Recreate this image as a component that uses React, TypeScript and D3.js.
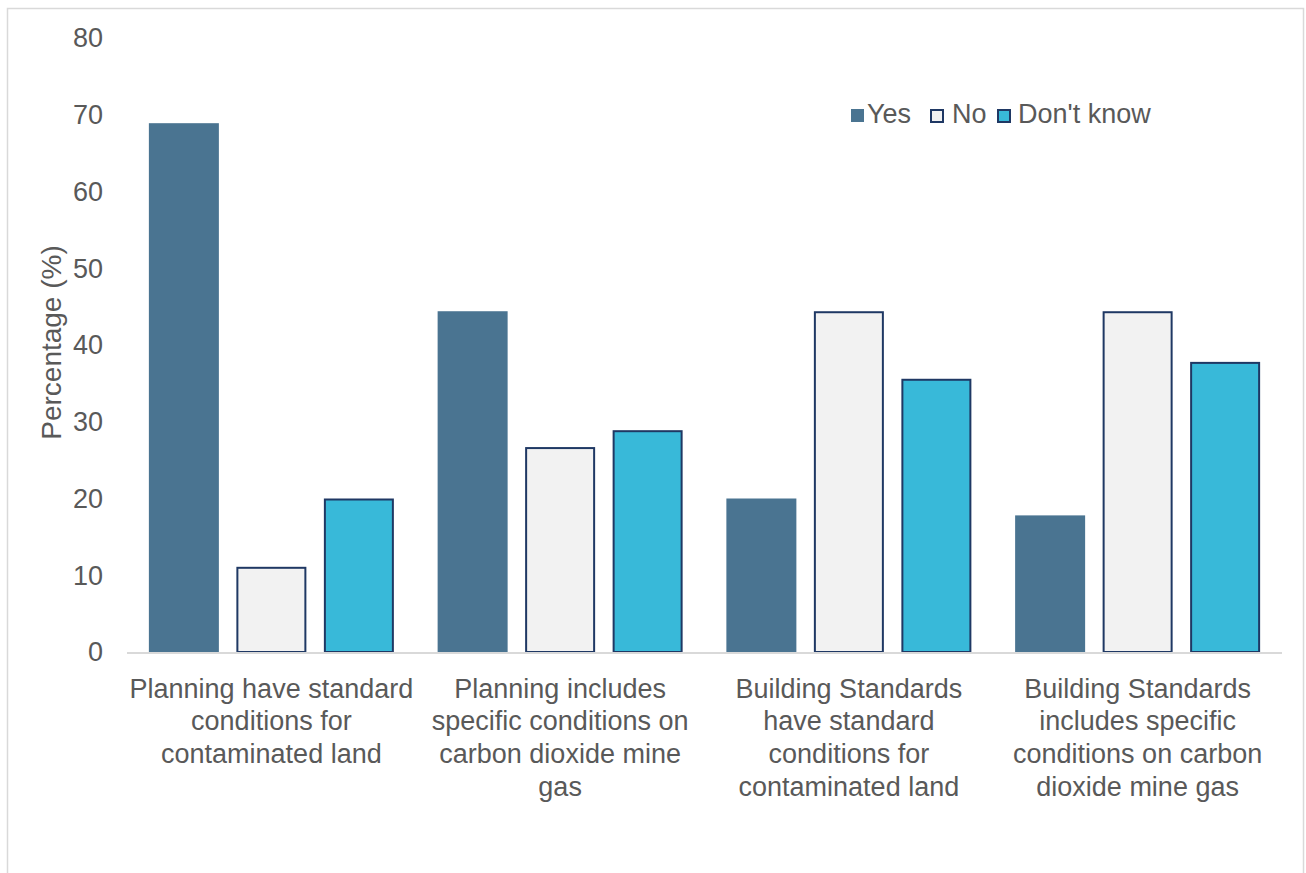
import React from "react";
import * as d3 from "d3";

const categories = [
  "Planning have standard conditions for contaminated land",
  "Planning includes specific conditions on carbon dioxide mine gas",
  "Building Standards have standard conditions for contaminated land",
  "Building Standards includes specific conditions on carbon dioxide mine gas",
];
const categoryLines = [
  ["Planning have standard", "conditions for", "contaminated land"],
  ["Planning includes", "specific conditions on", "carbon dioxide mine", "gas"],
  ["Building Standards", "have standard", "conditions for", "contaminated land"],
  ["Building Standards", "includes specific", "conditions on carbon", "dioxide mine gas"],
];
const seriesNames = ["Yes", "No", "Don't know"];
const yesValues = [68.9, 44.4, 20.0, 17.8];
const noValues = [11.1, 26.7, 44.4, 44.4];
const dontKnowValues = [20.0, 28.9, 35.6, 37.8];
const yTicks = [0, 10, 20, 30, 40, 50, 60, 70, 80];

const fills = ["#4A7491", "#F2F2F2", "#38B9D9"];
const strokes = ["none", "#1F3864", "#1F3864"];
const textColor = "#595959";
const font = "'Liberation Sans', Arial, sans-serif";

export default function App() {
  const W = 1306, H = 873;
  const x0 = 127, x1 = 1282, yTop = 38, yBase = 652;
  const series = [yesValues, noValues, dontKnowValues];

  const y = d3.scaleLinear().domain([0, 80]).range([yBase, yTop]);
  const xg = d3.scaleBand().domain(categories).range([x0, x1]).paddingInner(0).paddingOuter(0);
  const groupW = xg.bandwidth();
  // Excel-like: gap width ~62.5%, overlap -25%
  const barW = groupW / (3 + 2 * 0.25 + 0.625);
  const offset = (groupW - (3 * barW + 0.5 * barW)) / 2;

  const legendItems = [
    { name: seriesNames[0], x: 851, tx: 867 },
    { name: seriesNames[1], x: 930, tx: 952 },
    { name: seriesNames[2], x: 997, tx: 1018 },
  ];

  return (
    <svg width={W} height={H} style={{ position: "absolute", left: 0, top: 0, background: "#fff" }}
      fontFamily={font}>
      <rect x={7.5} y={8.5} width={1296} height={900} fill="#fff" stroke="#D9D9D9" strokeWidth={1.5} />
      {yTicks.map((t) => (
        <text key={t} x={103} y={y(t)} dy="0.35em" textAnchor="end" fontSize={27} fill={textColor}>{t}</text>
      ))}
      <text transform={`translate(61,342.5) rotate(-90)`} textAnchor="middle"
        fontSize={28} fill={textColor}>Percentage (%)</text>
      {categories.map((c, gi) => (
        <g key={c} transform={`translate(${xg(c)! + offset},0)`}>
          {series.map((vals, si) => {
            const bx = si * barW * 1.25;
            const hasStroke = strokes[si] !== "none";
            const top = y(vals[gi]);
            return (
              <rect key={si}
                x={bx + (hasStroke ? 1 : 0)}
                y={top + (hasStroke ? 1 : 0)}
                width={barW - (hasStroke ? 2 : 0)}
                height={yBase - top - (hasStroke ? 1 : 0)}
                fill={fills[si]} stroke={strokes[si]} strokeWidth={2} />
            );
          })}
        </g>
      ))}
      <line x1={x0} x2={x1} y1={yBase + 1} y2={yBase + 1} stroke="#D9D9D9" strokeWidth={2} />
      {categories.map((c, gi) => (
        <text key={c} textAnchor="middle" fontSize={27} fill={textColor}>
          {categoryLines[gi].map((ln, li) => (
            <tspan key={li} x={xg(c)! + groupW / 2} y={697.5 + li * 32.7}>{ln}</tspan>
          ))}
        </text>
      ))}
      {legendItems.map((it, i) => (
        <g key={it.name}>
          <rect x={it.x + (i > 0 ? 1 : 0)} y={109 + (i > 0 ? 1 : 0)} width={i > 0 ? 12 : 13} height={i > 0 ? 12 : 13}
            fill={fills[i]} stroke={strokes[i]} strokeWidth={2} />
          <text x={it.tx} y={123} fontSize={27} fill={textColor}>{it.name}</text>
        </g>
      ))}
    </svg>
  );
}
